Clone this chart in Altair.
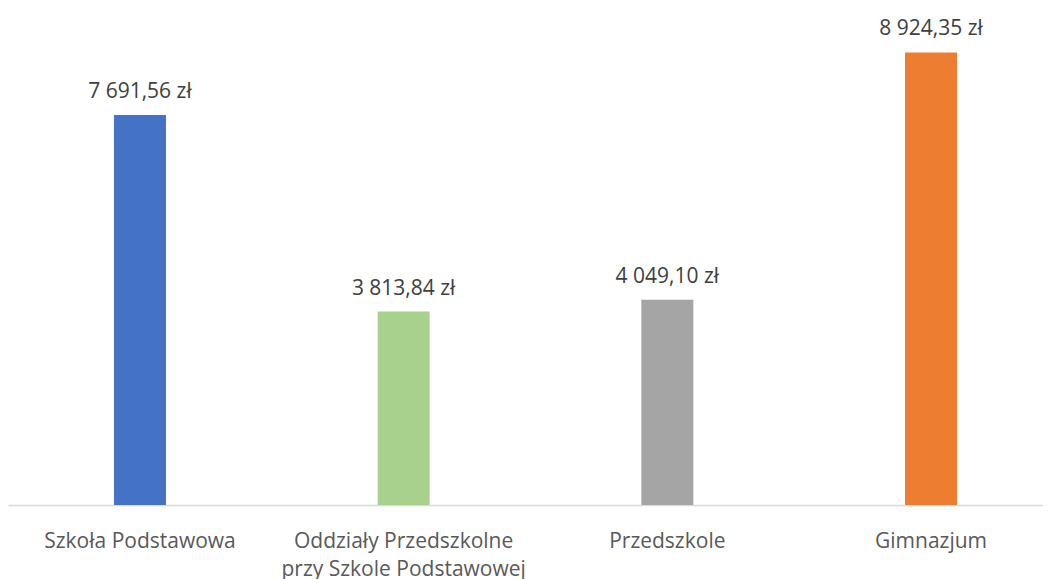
import altair as alt
import pandas as pd

categories = ["Szkoła Podstawowa", "Oddziały Przedszkolne\nprzy Szkole Podstawowej", "Przedszkole", "Gimnazjum"]
values = [7691.56, 3813.84, 4049.10, 8924.35]
colors = ["#4472C4", "#A9D18E", "#A5A5A5", "#ED7D31"]


def fmt(v):
    s = f"{v:,.2f}"
    return s.replace(",", " ").replace(".", ",") + " zł"


df = pd.DataFrame({
    "kategoria": categories,
    "wartosc": values,
    "kolor": colors,
    "etykieta": [fmt(v) for v in values],
})

FONT = "Open Sans"

x = alt.X("kategoria:N", sort=categories, title=None,
          scale=alt.Scale(paddingInner=0.8028, paddingOuter=0.364, align=0.552, round=False),
          axis=alt.Axis(labelAngle=0, ticks=False, domainColor="#D9D9D9", domainWidth=1.5,
                        labelFont=FONT, labelFontSize=21, labelColor="#595959",
                        labelPadding=25, labelLineHeight=28, labelLimit=0,
                        labelExpr="split(datum.label, '\\n')"))
y = alt.Y("wartosc:Q", scale=alt.Scale(domain=[0, 9800], nice=False, zero=True), axis=None)

bars = alt.Chart(df).mark_bar().encode(
    x=x, y=y, color=alt.Color("kolor:N", scale=None)
)
labels = alt.Chart(df).mark_text(
    font=FONT, fontSize=21, color="#404040", baseline="alphabetic", dy=-17
).encode(x=alt.X("kategoria:N", sort=categories), y="wartosc:Q", text="etykieta:N")

chart = (bars + labels).properties(width=1035, height=497, padding=0).configure_view(stroke=None)

chart.save("out.html", embed_options={"renderer": "svg", "actions": False})
